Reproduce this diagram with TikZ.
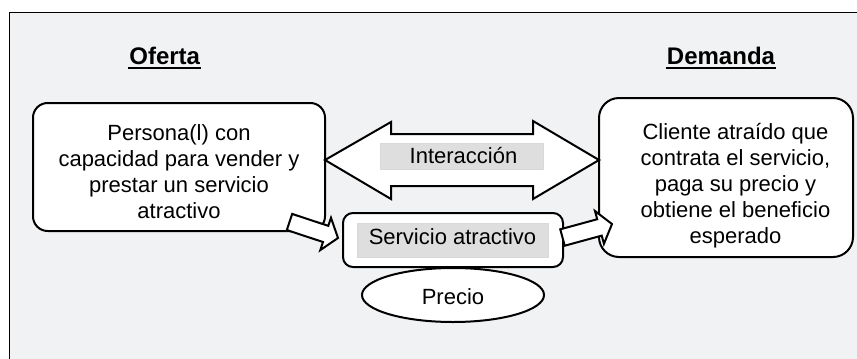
\documentclass[tikz,border=0pt]{standalone}
\usepackage{fontspec}
\setmainfont{Liberation Sans}
\definecolor{panelbg}{RGB}{241,242,244}
\definecolor{tagfill}{RGB}{222,222,222}
\tikzset{every picture/.style={line width=1.5pt}}
\tikzset{
  txt/.style={inner sep=0pt, align=center, font=\fontsize{16.5}{19.5}\selectfont},
  title/.style={inner sep=0pt, font=\fontsize{18}{22}\selectfont\bfseries},
  blockarrow/.style={draw, fill=white, line join=miter},
  tag/.style={fill=tagfill, draw=black!15, line width=0.6pt}
}

\begin{document}
\begin{tikzpicture}[x=0.75pt,y=0.75pt,yscale=-1,xscale=1]
	\path[use as bounding box] (0,0) rectangle (857,358);
	\clip (0,0) rectangle (857,358);

	%Panel
	\draw [line width=0.75pt, fill=panelbg] (9.5,12) rectangle (880,380);

	%Shape: Rounded Rect (oferta box)
	\draw [fill=white, rounded corners=11pt] (33,103) rectangle (325,231);
	%Shape: Rounded Rect (demanda box)
	\draw [fill=white, rounded corners=15pt] (599,98) rectangle (853,257);
	%Shape: Rounded Rect (servicio box)
	\draw [fill=white, rounded corners=7.5pt] (343,213) rectangle (563,267);
	\draw [tag] (357,223) rectangle (548,257);
	%Shape: Ellipse (precio)
	\draw [fill=white] (453,295) ellipse (91 and 27);

	%Shape: Double Arrow (interaccion)
	\draw [blockarrow] (325,160) -- (391,122) -- (391,134) -- (533,134) -- (533,121) -- (599,160) -- (533,199) -- (533,186) -- (391,186) -- (391,199) -- cycle ;
	\draw [tag] (380,143) rectangle (543,169);

	%Shape: Right Arrow (oferta to servicio)
	\draw [blockarrow] (292.16,213.93) -- (328.31,225.86) -- (330.98,217.79) -- (338,238) -- (320.32,250.07) -- (322.99,242) -- (286.84,230.07) -- cycle ;
	%Shape: Right Arrow (servicio to demanda)
	\draw [blockarrow] (560.26,229.3) -- (597.22,219.22) -- (594.99,211.02) -- (612,224) -- (603.93,243.82) -- (601.7,235.62) -- (564.74,245.7) -- cycle ;

	% Text Node
	\node [title, anchor=base] (oferta) at (164.7,64) {Oferta};
	\draw [line width=1.4pt] ([yshift=3.2pt]oferta.base west) -- ([yshift=3.2pt]oferta.base east);
	% Text Node
	\node [title, anchor=base] (demanda) at (721,64) {Demanda};
	\draw [line width=1.4pt] ([yshift=3.2pt]demanda.base west) -- ([yshift=3.2pt]demanda.base east);
	% Text Node
	\node [txt, anchor=base] (persona) at (179,218) {Persona(l) con\\capacidad para vender y\\prestar un servicio\\atractivo};
	% Text Node
	\node [txt, anchor=base] (cliente) at (735.5,243) {Cliente atraído que\\contrata el servicio,\\paga su precio y\\obtiene el beneficio\\esperado};
	% Text Node
	\node [txt, anchor=base] (interaccion) at (463.5,163) {Interacción};
	% Text Node
	\node [txt, anchor=base] (servicio) at (452.5,244) {Servicio atractivo};
	% Text Node
	\node [txt, anchor=base] (precio) at (453,304) {Precio};

\end{tikzpicture}
\end{document}
